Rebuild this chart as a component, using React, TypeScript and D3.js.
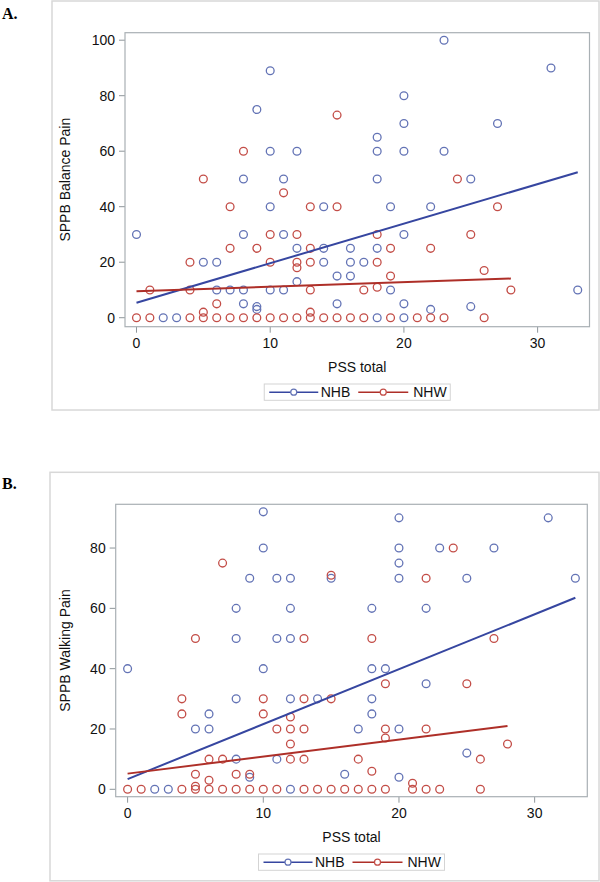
import React from 'react';
import * as d3 from 'd3';

// ---------- data ----------
const xTicks = [0, 10, 20, 30];
const balanceYTicks = [0, 20, 40, 60, 80, 100];
const walkingYTicks = [0, 20, 40, 60, 80];
const seriesNames = ['NHB', 'NHW'];
const xTitle = 'PSS total';
const balanceTitle = 'SPPB Balance Pain';
const walkingTitle = 'SPPB Walking Pain';

const balanceNHB: [number, number][] = [
  [0, 30], [2, 0], [3, 0], [5, 20], [6, 20], [6, 10], [7, 10], [8, 50], [8, 30], [8, 10], [8, 5],
  [9, 4], [9, 3], [9, 75], [10, 89], [10, 60], [10, 40], [10, 10], [11, 50], [11, 30], [11, 10],
  [12, 60], [12, 25], [12, 13], [14, 40], [14, 25], [14, 20], [15, 15], [15, 5], [16, 25], [16, 20],
  [16, 15], [17, 20], [18, 65], [18, 60], [18, 50], [18, 25], [18, 0], [19, 40], [19, 10], [20, 80],
  [20, 70], [20, 60], [20, 30], [20, 5], [20, 0], [22, 40], [22, 3], [23, 100], [23, 60], [25, 50],
  [25, 4], [27, 70], [31, 90], [33, 10],
];
const balanceNHW: [number, number][] = [
  [0, 0], [1, 10], [1, 0], [4, 20], [4, 10], [4, 0], [5, 50], [5, 2], [5, 0], [6, 5], [6, 0],
  [7, 40], [7, 25], [7, 0], [8, 60], [8, 0], [9, 25], [9, 0], [10, 30], [10, 20], [10, 0], [11, 45],
  [11, 0], [12, 30], [12, 20], [12, 18], [12, 0], [13, 40], [13, 25], [13, 20], [13, 10], [13, 2],
  [13, 0], [14, 0], [15, 73], [15, 40], [15, 0], [16, 0], [17, 10], [17, 0], [18, 30], [18, 20],
  [18, 11], [19, 25], [19, 15], [19, 0], [21, 0], [22, 25], [22, 0], [23, 0], [24, 50], [25, 30],
  [26, 17], [26, 0], [27, 40], [28, 10],
];
const balanceFitNHB: [number, number][] = [[0, 5.4], [33, 52.4]];
const balanceFitNHW: [number, number][] = [[0, 9.5], [28, 14.1]];

const walkingNHB: [number, number][] = [
  [0, 40], [2, 0], [3, 0], [5, 20], [6, 25], [6, 20], [8, 60], [8, 50], [8, 30], [8, 10], [9, 4],
  [9, 70], [10, 92], [10, 80], [10, 40], [11, 70], [11, 50], [11, 10], [12, 70], [12, 60], [12, 50],
  [12, 30], [12, 0], [14, 30], [15, 70], [16, 5], [17, 20], [18, 60], [18, 40], [18, 30], [18, 25],
  [19, 40], [20, 90], [20, 80], [20, 75], [20, 70], [20, 20], [20, 4], [22, 60], [22, 35], [23, 80],
  [25, 70], [25, 12], [27, 80], [31, 90], [33, 70],
];
const walkingNHW: [number, number][] = [
  [0, 0], [1, 0], [4, 30], [4, 25], [4, 0], [5, 50], [5, 5], [5, 1], [5, 0], [6, 10], [6, 3], [6, 0],
  [7, 75], [7, 10], [7, 0], [8, 5], [8, 0], [9, 5], [9, 0], [10, 30], [10, 25], [10, 0], [11, 20],
  [11, 0], [12, 24], [12, 20], [12, 15], [12, 10], [13, 50], [13, 30], [13, 20], [13, 10], [13, 0],
  [14, 0], [15, 71], [15, 30], [15, 0], [16, 0], [17, 10], [17, 0], [18, 50], [18, 6], [18, 0],
  [19, 35], [19, 20], [19, 17], [19, 0], [21, 2], [21, 0], [22, 70], [22, 20], [22, 0], [23, 0],
  [24, 80], [25, 35], [26, 10], [26, 0], [27, 50], [28, 15],
];
const walkingFitNHB: [number, number][] = [[0, 3.4], [33, 63.5]];
const walkingFitNHW: [number, number][] = [[0, 5.2], [28, 21.0]];

// ---------- style ----------
const BLUE_M = '#6373b5';
const BLUE_L = '#3646a0';
const RED_M = '#c34d47';
const RED_L = '#ae2f28';
const FONT = '"Liberation Sans", Arial, sans-serif';

type PanelProps = {
  letter: string;
  letterY: number;
  outer: { x: number; y: number; w: number; h: number };
  plot: { l: number; r: number; t: number; b: number };
  xDomain: [number, number];
  yDomain: [number, number];
  yTicks: number[];
  yTitle: string;
  nhb: [number, number][];
  nhw: [number, number][];
  fitNhb: [number, number][];
  fitNhw: [number, number][];
};

function Panel(p: PanelProps) {
  const x = d3.scaleLinear().domain(p.xDomain).range([p.plot.l, p.plot.r]);
  const y = d3.scaleLinear().domain(p.yDomain).range([p.plot.b, p.plot.t]);
  const line = d3.line<[number, number]>().x((d) => x(d[0])).y((d) => y(d[1]));
  const cx = (p.plot.l + p.plot.r) / 2;
  const cy = (p.plot.t + p.plot.b) / 2;
  const legW = 186;
  const legL = cx - legW / 2;
  const legT = p.plot.b + 57.3;
  const legH = 16.3;
  const legMid = legT + legH / 2;
  const r = 3.9;
  return (
    <g>
      <text x={2} y={p.letterY} fontFamily='"Liberation Serif", "Times New Roman", serif' fontWeight="bold" fontSize={16}>
        {p.letter}
      </text>
      <rect x={p.outer.x} y={p.outer.y} width={p.outer.w} height={p.outer.h} fill="white" stroke="#d8d8d8" strokeWidth={1.5} />
      {/* y axis */}
      {p.yTicks.map((t) => (
        <g key={'y' + t}>
          <line x1={p.plot.l - 6} x2={p.plot.l} y1={y(t)} y2={y(t)} stroke="#8e969a" strokeWidth={1} />
          <text x={p.plot.l - 10} y={y(t) + 5} textAnchor="end" fontFamily={FONT} fontSize={14} fill="#111">
            {t}
          </text>
        </g>
      ))}
      {/* x axis */}
      {xTicks.map((t) => (
        <g key={'x' + t}>
          <line x1={x(t)} x2={x(t)} y1={p.plot.b} y2={p.plot.b + 6} stroke="#8e969a" strokeWidth={1} />
          <text x={x(t)} y={p.plot.b + 21.6} textAnchor="middle" fontFamily={FONT} fontSize={14} fill="#111">
            {t}
          </text>
        </g>
      ))}
      <text x={cx} y={p.plot.b + 45.6} textAnchor="middle" fontFamily={FONT} fontSize={14} fill="#111">
        {xTitle}
      </text>
      <text
        transform={`translate(70,${cy}) rotate(-90)`}
        textAnchor="middle"
        fontFamily={FONT}
        fontSize={14}
        fill="#111"
      >
        {p.yTitle}
      </text>
      {/* markers */}
      {p.nhb.map((d, i) => (
        <circle key={'b' + i} cx={x(d[0])} cy={y(d[1])} r={r} fill="none" stroke={BLUE_M} strokeWidth={1.3} />
      ))}
      {p.nhw.map((d, i) => (
        <circle key={'w' + i} cx={x(d[0])} cy={y(d[1])} r={r} fill="none" stroke={RED_M} strokeWidth={1.3} />
      ))}
      {/* fits */}
      <path d={line(p.fitNhb) || ''} fill="none" stroke={BLUE_L} strokeWidth={2} />
      <path d={line(p.fitNhw) || ''} fill="none" stroke={RED_L} strokeWidth={2} />
      {/* frame */}
      <rect x={p.plot.l} y={p.plot.t} width={p.plot.r - p.plot.l} height={p.plot.b - p.plot.t} fill="none" stroke="#a9b0b4" strokeWidth={1.2} />
      {/* legend */}
      <rect x={legL} y={legT} width={legW} height={legH} fill="white" stroke="#d4d4d4" strokeWidth={1} />
      <line x1={legL + 5} x2={legL + 54} y1={legMid} y2={legMid} stroke={BLUE_L} strokeWidth={1.5} />
      <circle cx={legL + 29.5} cy={legMid} r={3} fill="white" stroke={BLUE_M} strokeWidth={1.2} />
      <text x={legL + 56.5} y={legMid + 5} fontFamily={FONT} fontSize={14} fill="#111">
        {seriesNames[0]}
      </text>
      <line x1={legL + 94} x2={legL + 144} y1={legMid} y2={legMid} stroke={RED_L} strokeWidth={1.5} />
      <circle cx={legL + 119} cy={legMid} r={3} fill="white" stroke={RED_M} strokeWidth={1.2} />
      <text x={legL + 149} y={legMid + 5} fontFamily={FONT} fontSize={14} fill="#111">
        {seriesNames[1]}
      </text>
    </g>
  );
}

export default function App() {
  return (
    <svg
      width={600}
      height={882}
      viewBox="0 0 600 882"
      style={{ position: 'absolute', left: 0, top: 0, background: 'white' }}
    >
      <rect x={0} y={0} width={600} height={882} fill="white" />
      <Panel
        letter="A."
        letterY={19}
        outer={{ x: 52, y: 1, w: 547, h: 409 }}
        plot={{ l: 125, r: 589.5, t: 32.7, b: 326.7 }}
        xDomain={[-0.86, 33.88]}
        yDomain={[-3.24, 102.7]}
        yTicks={balanceYTicks}
        yTitle={balanceTitle}
        nhb={balanceNHB}
        nhw={balanceNHW}
        fitNhb={balanceFitNHB}
        fitNhw={balanceFitNHW}
      />
      <Panel
        letter="B."
        letterY={489}
        outer={{ x: 50, y: 472.3, w: 549, h: 408.5 }}
        plot={{ l: 115.7, r: 587.3, t: 504.3, b: 796.7 }}
        xDomain={[-0.877, 33.88]}
        yDomain={[-2.45, 94.5]}
        yTicks={walkingYTicks}
        yTitle={walkingTitle}
        nhb={walkingNHB}
        nhw={walkingNHW}
        fitNhb={walkingFitNHB}
        fitNhw={walkingFitNHW}
      />
    </svg>
  );
}
